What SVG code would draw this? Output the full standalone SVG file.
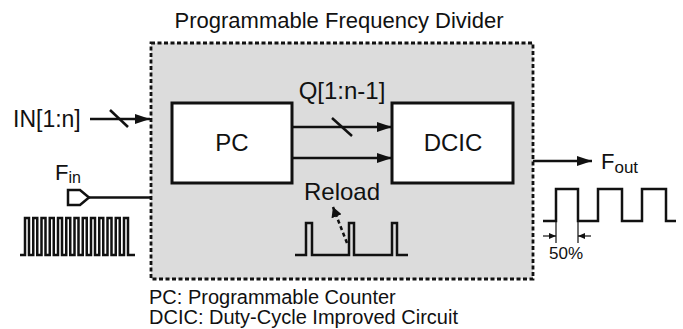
<svg xmlns="http://www.w3.org/2000/svg" width="683" height="329" viewBox="0 0 683 329">
<style>
text{font-family:"Liberation Sans",Arial,Helvetica,sans-serif;fill:#111;}
.box{fill:#fff;stroke:#111;stroke-width:3;}
.frame{fill:#dcdcdc;stroke:#111;stroke-width:2.8;stroke-dasharray:4 2.5;}
.wire{fill:none;stroke:#111;stroke-width:2.5;}
.wave{fill:none;stroke:#111;stroke-width:2.5;stroke-linejoin:miter;}
.thin{fill:none;stroke:#111;stroke-width:1.2;}
.dash{fill:none;stroke:#111;stroke-width:2.5;stroke-dasharray:4 3;}
.t22{font-size:22px;}
.t24{font-size:24px;}
.t20{font-size:20px;}
</style>
<defs>
<marker id="ah" viewBox="0 0 15 10" refX="15" refY="5" markerWidth="15" markerHeight="10" markerUnits="userSpaceOnUse" orient="auto"><path d="M0,0 L15,5 L0,10 z" fill="#111"/></marker>
<marker id="ahs" viewBox="0 0 7 6" refX="7" refY="3" markerWidth="7" markerHeight="6" markerUnits="userSpaceOnUse" orient="auto"><path d="M0,0 L7,3 L0,6 z" fill="#111"/></marker>
<marker id="ahd" viewBox="0 0 10 11" refX="10" refY="5.5" markerWidth="10" markerHeight="11" markerUnits="userSpaceOnUse" orient="auto"><path d="M0,0 L10,5.5 L0,11 z" fill="#111"/></marker>
</defs>

<g id="title"><text class="t22" x="339" y="28" text-anchor="middle">Programmable Frequency Divider</text></g>

<g id="divider"><rect class="frame" x="151" y="43" width="382" height="236"/></g>

<g id="pc"><rect class="box" x="172" y="103" width="120" height="80"/><text class="t24" x="232" y="151" text-anchor="middle">PC</text></g>

<g id="dcic"><rect class="box" x="392" y="103" width="121" height="80"/><text class="t24" x="453" y="151" text-anchor="middle">DCIC</text></g>

<g id="q-label"><text class="t24" x="342" y="99" text-anchor="middle">Q[1:n-1]</text></g>

<g id="in-label"><text x="13" y="127" style="font-size:23px">IN[1:n]</text></g>

<g id="fin"><text x="55" y="180" class="t22">F<tspan dy="3" style="font-size:16px">in</tspan></text>
<polygon points="68,190 80,190 89,197.5 80,205 68,205" fill="none" stroke="#111" stroke-width="2.5"/>
<path class="wave" d="M20,255 H25 V218 H29 V255 H33.25 V218 H37.25 V255 H41.5 V218 H45.5 V255 H49.75 V218 H53.75 V255 H58 V218 H62 V255 H66.25 V218 H70.25 V255 H74.5 V218 H78.5 V255 H82.75 V218 H86.75 V255 H91 V218 H95 V255 H99.25 V218 H103.25 V255 H107.5 V218 H111.5 V255 H115.75 V218 H119.75 V255 H124 V218 H128 V255 H135"/></g>

<g id="reload"><text class="t24" x="342" y="200" text-anchor="middle">Reload</text>
<path class="wave" d="M295,255 H306 V223 H312 V255 H349 V223 H354 V255 H392 V223 H397 V255 H408"/></g>

<g id="fout"><text x="601" y="169" class="t22">F<tspan dy="4" style="font-size:17px">out</tspan></text>
<path class="wave" d="M543,221 H556 V189 H578 V221 H598 V189 H622 V221 H642 V189 H666 V221 H676"/>
<path class="thin" d="M556,221 V243 M578,221 V243"/>
<text x="566" y="259" text-anchor="middle" style="font-size:17px">50%</text></g>

<g id="legend"><text class="t20" x="149" y="304">PC: Programmable Counter</text><text class="t20" x="149" y="324">DCIC: Duty-Cycle Improved Circuit</text></g>

<g id="connectors">
<line class="wire" x1="90" y1="119" x2="150" y2="119" marker-end="url(#ah)"/>
<line class="wire" x1="110" y1="110" x2="128" y2="127"/>
<line class="wire" x1="89" y1="197.5" x2="151" y2="197.5"/>
<line class="wire" x1="292" y1="127" x2="392" y2="127" marker-end="url(#ah)"/>
<line class="wire" x1="332" y1="118" x2="352" y2="136"/>
<line class="wire" x1="292" y1="158" x2="392" y2="158" marker-end="url(#ah)"/>
<line class="wire" x1="533" y1="161" x2="592" y2="161" marker-end="url(#ah)"/>
<line class="dash" x1="347" y1="243" x2="333" y2="207" marker-end="url(#ahd)"/>
<line class="thin" x1="543" y1="236" x2="556" y2="236" marker-end="url(#ahs)"/>
<line class="thin" x1="591" y1="236" x2="578" y2="236" marker-end="url(#ahs)"/>
</g>
</svg>
